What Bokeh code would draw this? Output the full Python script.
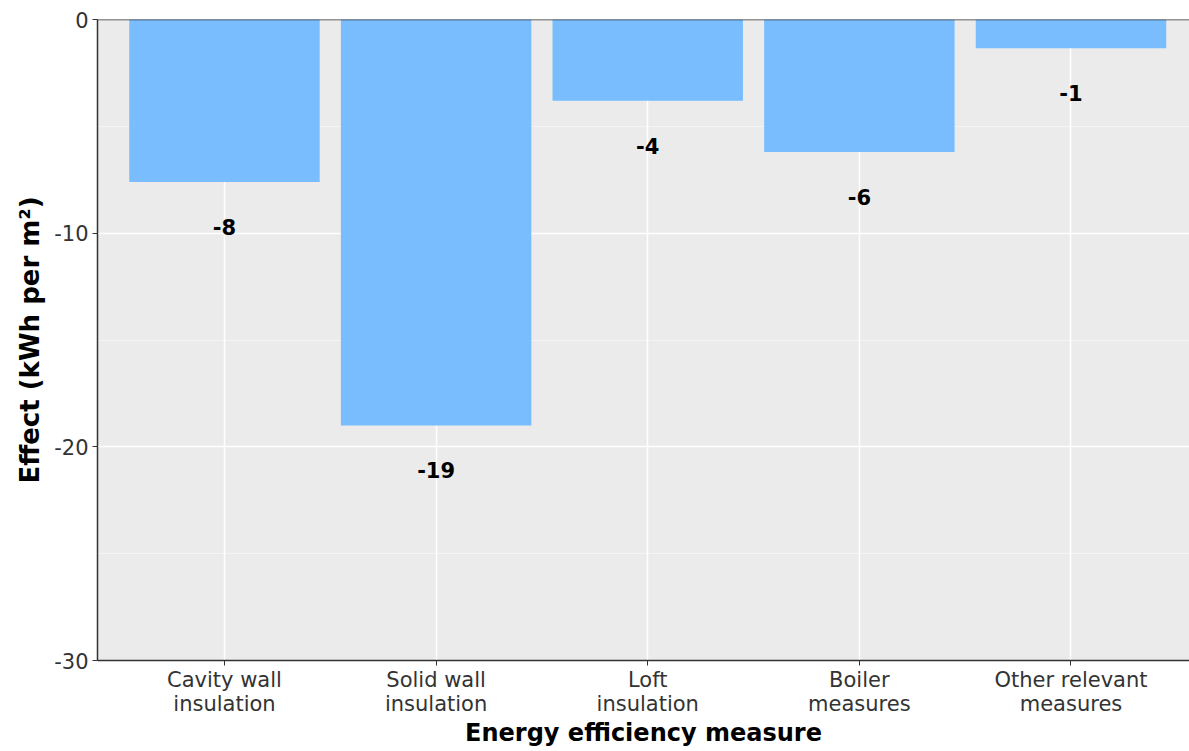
from bokeh.plotting import figure
from bokeh.models import FixedTicker, Range1d, Span, ColumnDataSource
from bokeh.core.properties import value
from bokeh.embed import file_html
from bokeh.resources import INLINE

categories = ["Cavity wall\ninsulation", "Solid wall\ninsulation", "Loft\ninsulation",
              "Boiler\nmeasures", "Other relevant\nmeasures"]
effects = [-7.6, -19.0, -3.8, -6.2, -1.35]
labels = ["-8", "-19", "-4", "-6", "-1"]
y_ticks = [0, -10, -20, -30]
y_tick_labels = ["0", "-10", "-20", "-30"]
y_minor = [-5, -15, -25]

xs = list(range(len(categories)))
src = ColumnDataSource(dict(x=xs, top=[0] * len(xs), bottom=effects, lab=labels))

FONT = "DejaVu Sans"
p = figure(width=1189, height=751, output_backend="svg", toolbar_location=None,
           x_range=Range1d(-0.6, 4.56), y_range=Range1d(-30, 0))
p.frame_width = 1092
p.frame_height = 641
p.min_border_left = 97
p.min_border_top = 19
p.min_border_right = 0
p.min_border_bottom = 91
p.outline_line_color = None
p.background_fill_color = "#EBEBEB"
p.border_fill_color = "white"

p.vbar(x="x", top="top", bottom="bottom", width=0.9, source=src,
       fill_color="#79BDFF", line_color=None)
p.text(x="x", y="bottom", text="lab", source=src, y_offset=45,
       text_align="center", text_baseline="middle",
       text_font=value(FONT), text_font_style="bold", text_font_size="21px",
       text_color="black")

p.add_layout(Span(location=0, dimension="width", line_color="#333333", line_width=1.5))

p.xaxis.ticker = FixedTicker(ticks=xs)
p.xaxis.major_label_overrides = {i: c for i, c in enumerate(categories)}
p.yaxis.ticker = FixedTicker(ticks=y_ticks, minor_ticks=y_minor)
p.yaxis.major_label_overrides = {t: s for t, s in zip(y_ticks, y_tick_labels)}

for ax in (p.xaxis[0], p.yaxis[0]):
    ax.axis_line_color = "#333333"
    ax.axis_line_width = 1.5
    ax.major_tick_line_color = "#333333"
    ax.major_tick_in = 0
    ax.major_tick_out = 5
    ax.minor_tick_line_color = None
    ax.major_label_text_font = FONT
    ax.major_label_text_font_size = "21px"
    ax.major_label_text_line_height = 1.0
    ax.major_label_text_color = "#333333"
    ax.axis_label_text_font = FONT
    ax.axis_label_text_font_style = "bold"
    ax.axis_label_text_color = "black"

p.xaxis.axis_label = "Energy efficiency measure"
p.xaxis.axis_label_text_font_size = "24px"
p.xaxis.axis_label_standoff = 0
p.xaxis.major_label_standoff = 2
p.yaxis.axis_label = "Effect (kWh per m²)"
p.yaxis.axis_label_text_font_size = "26px"
p.yaxis.axis_label_standoff = 6
p.yaxis.major_label_standoff = 4

p.xgrid.grid_line_color = "white"
p.xgrid.grid_line_width = 1.5
p.ygrid.grid_line_color = "white"
p.ygrid.grid_line_width = 1.5
p.ygrid.minor_grid_line_color = "white"
p.ygrid.minor_grid_line_alpha = 0.6
p.ygrid.minor_grid_line_width = 0.8

open("out.html", "w").write(file_html(p, INLINE))
